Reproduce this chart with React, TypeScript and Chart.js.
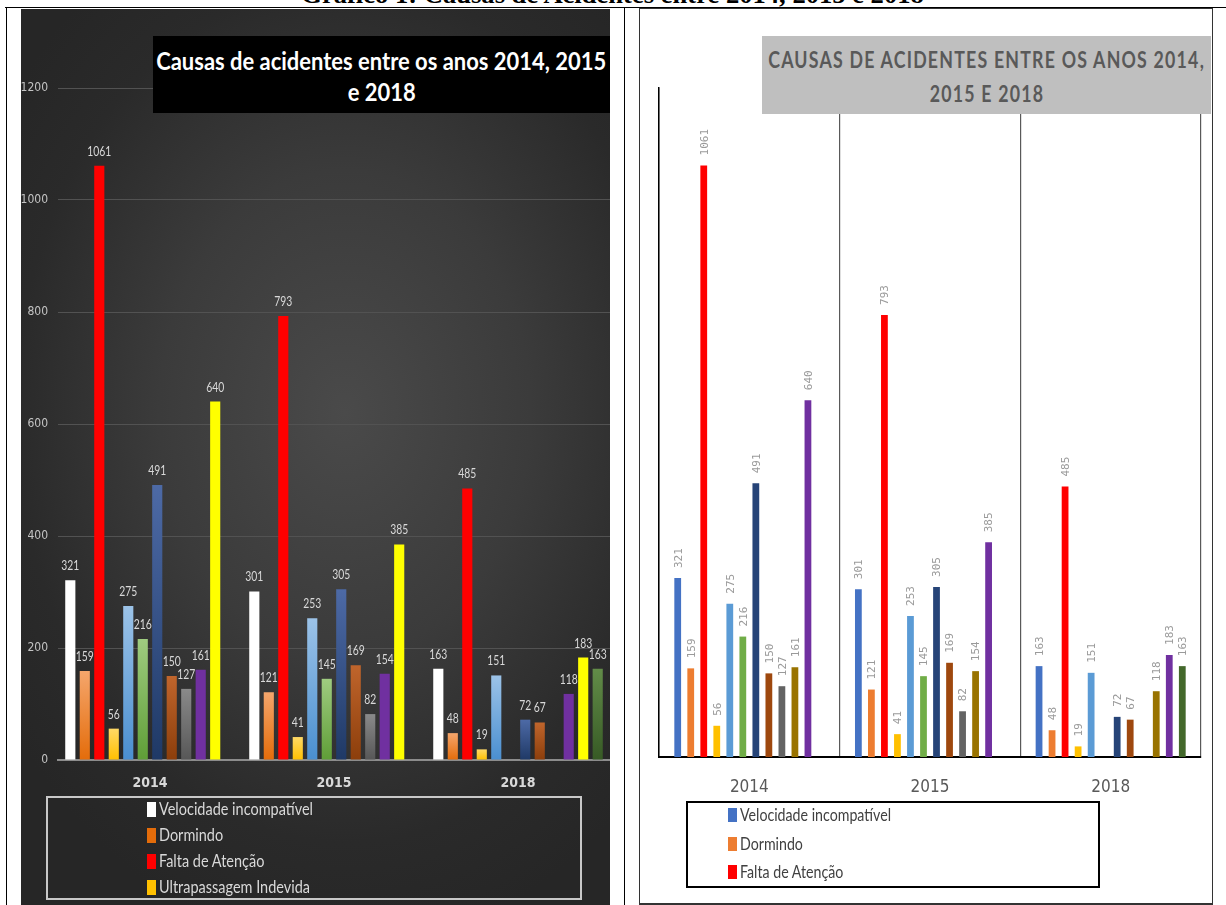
import React, { useEffect, useRef } from 'react';
import { Chart, registerables } from 'chart.js';

Chart.register(...registerables);

// ---------- DATA ----------
const years = ['2014', '2015', '2018'];
const velocidadeIncompativel = [321, 301, 163];
const dormindo = [159, 121, 48];
const faltaDeAtencao = [1061, 793, 485];
const ultrapassagemIndevida = [56, 41, 19];
const causa5 = [275, 253, 151];
const causa6 = [216, 145, null];
const causa7 = [491, 305, 72];
const causa8 = [150, 169, 67];
const causa9 = [127, 82, null];
const causa10 = [161, 154, 118];
const causa11 = [640, 385, 183];
const causa12 = [null, null, 163];

const seriesNames = [
  'Velocidade incompatível',
  'Dormindo',
  'Falta de Atenção',
  'Ultrapassagem Indevida',
  'Causa 5',
  'Causa 6',
  'Causa 7',
  'Causa 8',
  'Causa 9',
  'Causa 10',
  'Causa 11',
  'Causa 12',
];
const seriesValues = [
  velocidadeIncompativel, dormindo, faltaDeAtencao, ultrapassagemIndevida,
  causa5, causa6, causa7, causa8, causa9, causa10, causa11, causa12,
];

const yMin = 0;
const yMax = 1200;
const yStep = 200;

const caption = 'Gráfico 1: Causas de Acidentes entre 2014, 2015 e 2018';
const leftTitle = ['Causas de acidentes entre os anos 2014, 2015', 'e 2018'];
const rightTitle = ['CAUSAS DE ACIDENTES ENTRE OS ANOS 2014,', '2015 E 2018'];
const leftLegendCount = 4;
const rightLegendCount = 3;

// ---------- STYLES ----------
const COND = '"DejaVu Sans Condensed", "DejaVu Sans", sans-serif';
const HUMAN = 'Lato, "Open Sans", sans-serif';
const MONO = '"DejaVu Sans Mono", "Liberation Mono", monospace';
const SERIF = '"Liberation Serif", "Times New Roman", serif';

const leftBase = ['#ffffff', '#e46c0a', '#ff0000', '#ffc000', '#4a8fd0', '#5f9e37', '#1f3966', '#8c3e0b', '#575757', '#7030a0', '#ffff00', '#375a25'];
const leftTop = ['#ffffff', '#f5a66c', '#ff0000', '#ffd966', '#9cc3e8', '#9fcc80', '#4d6aa6', '#c0652c', '#8a8a8a', '#7030a0', '#ffff00', '#628c48'];
const rightColors = ['#4472c4', '#ed7d31', '#ff0000', '#ffc000', '#5b9bd5', '#70ad47', '#264478', '#9e480e', '#636363', '#997300', '#7030a0', '#43682b'];

// ---------- text measuring helpers ----------
let measureCtx: CanvasRenderingContext2D | null = null;
function textWidth(text: string, font: string, letterSpacing = 0) {
  if (!measureCtx) measureCtx = document.createElement('canvas').getContext('2d');
  if (!measureCtx) return text.length * 10;
  measureCtx.font = font;
  return measureCtx.measureText(text).width + letterSpacing * text.length;
}

const labelPlugin = {
  id: 'valueLabels',
  afterDatasetsDraw(chart: any, _args: any, opts: any) {
    const ctx = chart.ctx;
    ctx.save();
    chart.data.datasets.forEach((ds: any, di: number) => {
      const meta = chart.getDatasetMeta(di);
      meta.data.forEach((el: any, i: number) => {
        const v = ds.data[i];
        if (v === null || v === undefined) return;
        const text = String(v);
        ctx.fillStyle = opts.color;
        ctx.font = opts.font;
        ctx.save();
        if (opts.rotated) {
          ctx.translate(el.x + 1, el.y - opts.gap);
          ctx.rotate(-Math.PI / 2);
          ctx.textAlign = 'left';
          ctx.textBaseline = 'middle';
          ctx.fillText(text, 0, 0);
        } else {
          ctx.translate(el.x, el.y - opts.gap);
          ctx.scale(opts.squeeze || 1, 1);
          ctx.textAlign = 'center';
          ctx.textBaseline = 'alphabetic';
          ctx.fillText(text, 0, 0);
        }
        ctx.restore();
      });
    });
    ctx.restore();
  },
};

function gradientFill(i: number) {
  return (c: any) => {
    const chart = c.chart;
    const raw = c.raw;
    if (!chart.chartArea || raw === null || raw === undefined || leftBase[i] === leftTop[i]) return leftBase[i];
    const ys = chart.scales.y;
    const top = ys.getPixelForValue(raw);
    const bot = ys.getPixelForValue(0);
    if (!isFinite(top) || !isFinite(bot) || bot - top < 1) return leftBase[i];
    const g = chart.ctx.createLinearGradient(0, top, 0, bot);
    g.addColorStop(0, leftTop[i]);
    g.addColorStop(1, leftBase[i]);
    return g;
  };
}

function LeftChart() {
  const ref = useRef<HTMLCanvasElement>(null);
  useEffect(() => {
    const chart = new Chart(ref.current as HTMLCanvasElement, {
      type: 'bar',
      data: {
        labels: years,
        datasets: seriesValues.map((vals, i) => ({
          label: seriesNames[i],
          data: vals,
          backgroundColor: gradientFill(i),
          borderWidth: 0,
          categoryPercentage: 0.945,
          barPercentage: 0.7,
        })),
      },
      options: {
        responsive: false,
        animation: false,
        layout: { padding: { top: 79, left: 0, right: 0, bottom: 0 } },
        plugins: {
          legend: { display: false },
          title: { display: false },
          tooltip: { enabled: false },
          valueLabels: { color: '#d9d9d9', font: `14px ${HUMAN}`, gap: 10, rotated: false, squeeze: 0.74 },
        } as any,
        scales: {
          x: {
            grid: { display: false, drawTicks: false },
            border: { display: true, color: '#8c8c8c', width: 2 },
            ticks: { color: '#d9d9d9', padding: 15, font: { family: COND, size: 14, weight: 'bold' } },
            afterFit: (s: any) => { s.height = 145; },
          },
          y: {
            min: yMin,
            max: yMax,
            ticks: { stepSize: yStep, color: '#c4c4c4', padding: 10, font: { family: COND, size: 12 }, callback: (v: any) => String(v) },
            grid: { color: '#525252', lineWidth: 1, drawTicks: false },
            border: { display: false },
            afterFit: (s: any) => { s.width = 37; },
          },
        },
      } as any,
      plugins: [labelPlugin],
    });
    return () => chart.destroy();
  }, []);
  return <canvas ref={ref} width={589} height={896} style={{ position: 'absolute', left: 21, top: 9, width: 589, height: 896 }} />;
}

function RightChart() {
  const ref = useRef<HTMLCanvasElement>(null);
  useEffect(() => {
    const chart = new Chart(ref.current as HTMLCanvasElement, {
      type: 'bar',
      data: {
        labels: years,
        datasets: seriesValues.map((vals, i) => ({
          label: seriesNames[i],
          data: vals,
          backgroundColor: rightColors[i],
          borderWidth: 0,
          categoryPercentage: 0.865,
          barPercentage: 0.52,
        })),
      },
      options: {
        responsive: false,
        animation: false,
        layout: { padding: { top: 78, left: 0, right: 9, bottom: 0 } },
        plugins: {
          legend: { display: false },
          title: { display: false },
          tooltip: { enabled: false },
          valueLabels: { color: '#9a9a9a', font: `11px ${MONO}`, gap: 10, rotated: true },
        } as any,
        scales: {
          x: {
            grid: { display: true, offset: true, color: '#595959', lineWidth: 1.2, drawTicks: false },
            border: { display: true, color: '#000000', width: 2 },
            ticks: { color: '#595959', padding: 20, font: { family: COND, size: 17 } },
            afterFit: (s: any) => { s.height = 145; },
          },
          y: {
            min: yMin,
            max: yMax,
            ticks: { display: false, stepSize: yStep },
            grid: { display: false, drawTicks: false },
            border: { display: true, color: '#000000', width: 1.5 },
            afterFit: (s: any) => { s.width = 18; },
          },
        },
      } as any,
      plugins: [labelPlugin],
    });
    return () => chart.destroy();
  }, []);
  return <canvas ref={ref} width={569} height={892} style={{ position: 'absolute', left: 641, top: 10, width: 569, height: 892 }} />;
}

function SqueezedLine(props: { text: string; scale: number; style: any; height: number }) {
  return (
    <div style={{ display: 'flex', justifyContent: 'center', whiteSpace: 'nowrap', height: props.height, alignItems: 'center' }}>
      <span style={{ display: 'inline-block', flex: 'none', transform: `scaleX(${props.scale})`, transformOrigin: 'center center', ...props.style }}>{props.text}</span>
    </div>
  );
}

function LegendItem(props: { x: number; cy: number; color: string; text: string; textColor: string; sqW: number; sqH: number; gap: number; font: string; scale: number }) {
  const { x, cy, color, text, textColor, sqW, sqH, gap, font, scale } = props;
  return (
    <div style={{ position: 'absolute', left: x, top: cy - 12, height: 24, display: 'flex', alignItems: 'center', whiteSpace: 'nowrap' }}>
      <div style={{ width: sqW, height: sqH, background: color, marginRight: gap, flex: 'none' }} />
      <span style={{ color: textColor, font, lineHeight: '24px', display: 'inline-block', transform: `scaleX(${scale})`, transformOrigin: 'left center' }}>{text}</span>
    </div>
  );
}

export default function App() {
  const leftCy = [809, 835, 861, 887];
  const rightCy = [815, 844, 872];

  const leftTitleFont = `bold 25px ${HUMAN}`;
  const leftTitleScale = 450 / textWidth(leftTitle[0], leftTitleFont);
  const rightTitleFont = `bold 22px ${HUMAN}`;
  const rightTitleScale = 438 / textWidth(rightTitle[0], rightTitleFont, 1.5);
  const legendFont = `17px ${HUMAN}`;
  const leftLegendScale = 154 / textWidth(seriesNames[0], legendFont);
  const rightLegendScale = 151 / textWidth(seriesNames[0], legendFont);
  const captionFont = `bold 26px ${SERIF}`;
  const captionScale = 624 / textWidth(caption, captionFont);

  return (
    <div style={{ position: 'absolute', left: 0, top: 0, width: 1226, height: 905, overflow: 'hidden', background: '#ffffff' }}>
      {/* caption (cut at the top) */}
      <div style={{ position: 'absolute', left: 0, top: -18, width: 1226, height: 26, color: '#000' }}>
        <SqueezedLine text={caption} scale={captionScale} height={26} style={{ font: captionFont, lineHeight: '26px' }} />
      </div>
      {/* table lines */}
      <div style={{ position: 'absolute', left: 5, top: 7, width: 1221, height: 1, background: '#000' }} />
      <div style={{ position: 'absolute', left: 6, top: 7, width: 1, height: 898, background: '#000' }} />
      <div style={{ position: 'absolute', left: 624, top: 7, width: 1, height: 898, background: '#000' }} />

      {/* left dark panel */}
      <div style={{ position: 'absolute', left: 21, top: 9, width: 589, height: 896, background: 'radial-gradient(ellipse 70% 60% at 55% 45%, #4a4a4a 0%, #3b3b3b 45%, #2a2a2a 80%, #262626 100%)' }} />
      <LeftChart />
      <div style={{ position: 'absolute', left: 153, top: 36, width: 457, height: 77, background: '#000', color: '#ffffff', paddingTop: 9, boxSizing: 'border-box' }}>
        <SqueezedLine text={leftTitle[0]} scale={leftTitleScale} height={31} style={{ font: leftTitleFont, lineHeight: '31px' }} />
        <SqueezedLine text={leftTitle[1]} scale={leftTitleScale} height={31} style={{ font: leftTitleFont, lineHeight: '31px' }} />
      </div>
      <div style={{ position: 'absolute', left: 46, top: 796, width: 536, height: 104, border: '2px solid #c8c8c8', boxSizing: 'border-box' }} />
      {seriesNames.slice(0, leftLegendCount).map((n, i) => (
        <LegendItem key={n} x={147} cy={leftCy[i]} color={leftBase[i]} text={n} textColor="#d9d9d9" sqW={9} sqH={15} gap={3} font={legendFont} scale={leftLegendScale} />
      ))}

      {/* right chart box */}
      <div style={{ position: 'absolute', left: 639, top: 8, width: 574, height: 897, border: '1.5px solid #333', borderBottomWidth: 2, boxSizing: 'border-box' }} />
      <RightChart />
      <div style={{ position: 'absolute', left: 762, top: 36, width: 449, height: 78, background: '#bfbfbf', color: '#595959', paddingTop: 7, boxSizing: 'border-box' }}>
        <SqueezedLine text={rightTitle[0]} scale={rightTitleScale} height={34} style={{ font: rightTitleFont, letterSpacing: '1.5px', lineHeight: '34px' }} />
        <SqueezedLine text={rightTitle[1]} scale={rightTitleScale} height={34} style={{ font: rightTitleFont, letterSpacing: '1.5px', lineHeight: '34px' }} />
      </div>
      <div style={{ position: 'absolute', left: 686, top: 801, width: 414, height: 87, border: '2px solid #000', boxSizing: 'border-box' }} />
      {seriesNames.slice(0, rightLegendCount).map((n, i) => (
        <LegendItem key={n} x={728} cy={rightCy[i]} color={rightColors[i]} text={n} textColor="#404040" sqW={9} sqH={14} gap={3} font={legendFont} scale={rightLegendScale} />
      ))}
    </div>
  );
}
